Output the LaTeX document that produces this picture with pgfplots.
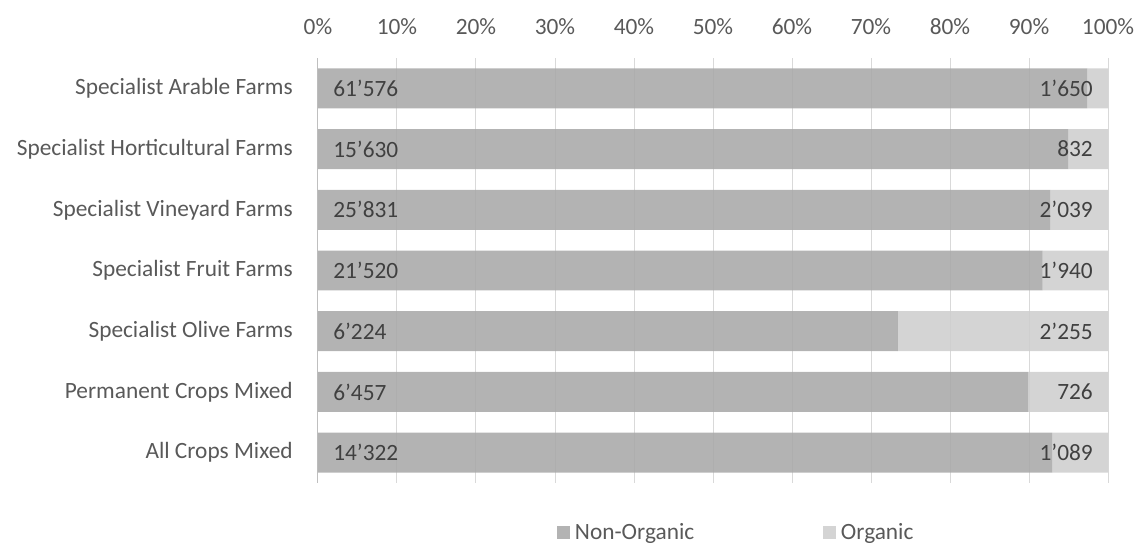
\documentclass[border=0pt]{standalone}
\usepackage{pgfplots}
\usepackage{pgfplotstable}
\pgfplotsset{compat=1.18}
\usepackage{fontspec}
\setmainfont{Carlito}
\definecolor{nonorg}{HTML}{A9A9A9}
\definecolor{org}{HTML}{CECECE}
\definecolor{gridc}{HTML}{D9D9D9}
\definecolor{axisc}{HTML}{BFBFBF}
\definecolor{tickc}{HTML}{595959}
\definecolor{labc}{HTML}{404040}

\pgfplotstableread{
idx non org nonpct orgpct nl ol
0 61576 1650 97.390 2.610 61’576 1’650
1 15630 832 94.946 5.054 15’630 832
2 25831 2039 92.684 7.316 25’831 2’039
3 21520 1940 91.731 8.269 21’520 1’940
4 6224 2255 73.405 26.595 6’224 2’255
5 6457 726 89.893 10.107 6’457 726
6 14322 1089 92.934 7.066 14’322 1’089
}\data

\newcommand{\chfont}{\fontsize{17.5}{21}\selectfont}

\begin{document}
\chfont
\begin{tikzpicture}
\path[use as bounding box] (-238.5pt,-46.5pt) rectangle (617.25pt,362.25pt);
\begin{axis}[
 at={(0,0)}, anchor=south west,
 scale only axis, width=592.5pt, height=318.75pt,
 xbar stacked, bar width=0.658,
 xmin=0, xmax=100, ymin=-0.5, ymax=6.5, y dir=reverse,
 axis x line*=top, axis y line*=left,
 x axis line style={draw=none},
 y axis line style={draw=axisc, line width=0.75pt},
 xtick={0,10,...,100},
 xticklabels={0\%,10\%,20\%,30\%,40\%,50\%,60\%,70\%,80\%,90\%,100\%},
 ytick={0,...,6},
 yticklabels={Specialist Arable Farms,Specialist Horticultural Farms,Specialist Vineyard Farms,Specialist Fruit Farms,Specialist Olive Farms,Permanent Crops Mixed,All Crops Mixed},
 major tick length=0pt,
 xmajorgrids, grid style={draw=gridc, line width=0.75pt},
 tick label style={font=\chfont, text=tickc},
 xticklabel style={anchor=base, yshift=18pt, inner sep=0pt},
 yticklabel style={anchor=east, xshift=-18.75pt, inner sep=0pt},
 legend columns=2,
 legend style={at={(axis description cs:0.3025,-0.1176)}, anchor=west, draw=none, fill=none,
   inner sep=0pt, outer sep=0pt, row sep=0pt, column sep=0pt, font=\chfont, text=tickc,
   /tikz/every odd column/.style={column sep=3.75pt},
   nodes={inner sep=0pt, anchor=west}},
 legend image code/.code={\fill[#1] (0pt,-4.875pt) rectangle (9.75pt,4.875pt);},
]
\addplot[fill=nonorg, draw=none, fill opacity=0.88] table[x=nonpct, y=idx]{\data};
\addplot[fill=org, draw=none, fill opacity=0.88] table[x=orgpct, y=idx]{\data};
\legend{\makebox[186pt][l]{Non-Organic}, Organic}
\end{axis}
\begin{axis}[
 at={(0,0)}, anchor=south west,
 scale only axis, width=592.5pt, height=318.75pt,
 xmin=0, xmax=100, ymin=-0.5, ymax=6.5, y dir=reverse,
 hide axis, clip=false]
\addplot[draw=none, mark=none, point meta=explicit symbolic, nodes near coords,
  every node near coord/.style={anchor=west, xshift=11.25pt, inner sep=0pt, text=labc, font=\chfont}]
  table[x expr=0, y=idx, meta=nl]{\data};
\addplot[draw=none, mark=none, point meta=explicit symbolic, nodes near coords,
  every node near coord/.style={anchor=east, xshift=-11.25pt, inner sep=0pt, text=labc, font=\chfont}]
  table[x expr=100, y=idx, meta=ol]{\data};
\end{axis}
\end{tikzpicture}
\end{document}
